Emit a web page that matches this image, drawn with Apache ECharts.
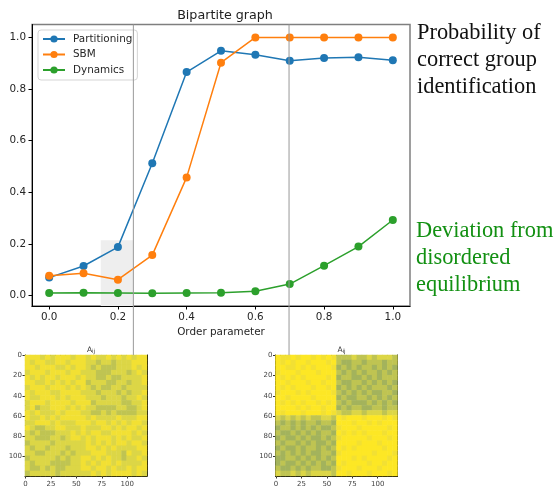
<!DOCTYPE html>
<html>
<head>
<meta charset="utf-8">
<style>html,body{margin:0;padding:0;background:#fff}#c{width:556px;height:488px}</style>
<script src="https://cdn.jsdelivr.net/npm/echarts@6/dist/echarts.min.js"></script>
</head>
<body>
<div id="c"></div>
<script>
const orderParameter = [0.0, 0.1, 0.2, 0.3, 0.4, 0.5, 0.6, 0.7, 0.8, 0.9, 1.0];
const partitioning = [0.070, 0.115, 0.188, 0.513, 0.866, 0.948, 0.933, 0.910, 0.920, 0.923, 0.912];
const sbm = [0.077, 0.087, 0.062, 0.157, 0.458, 0.902, 1.0, 1.0, 1.0, 1.0, 1.0];
const dynamics = [0.010, 0.011, 0.010, 0.009, 0.010, 0.011, 0.017, 0.045, 0.116, 0.190, 0.293];
const xTicks = [0, 0.2, 0.4, 0.6, 0.8, 1.0];
const yTicks = [0, 0.2, 0.4, 0.6, 0.8, 1.0];
const heatXTicks = [0, 25, 50, 75, 100];
const heatYTicks = [0, 20, 40, 60, 80, 100];
const guideLines = [0.245, 0.698];
const shadedBand = [0.15, 0.245, 0.215];
// Estimated block shade per 5x5 cells of the 120x120 matrices (0 dark ... 9 yellow).
const matrixLeft = [
"888787888788787787878788",
"878877887888776776777888",
"887888778788767666777878",
"788878887887776667776787",
"878788788878776676677778",
"887787878788677766776778",
"788878887878767667767777",
"878887788887776777676778",
"877888787888777677767787",
"788878888788867777766778",
"786778887878776666776678",
"878777878887766767666677",
"877878788888787777877788",
"778887877788878878787887",
"876677887778777887878878",
"767666777878788778888787",
"776667767887878887878778",
"677776777777878787887887",
"767767776777887878777788",
"776677767677788877768778",
"677777676778878787767787",
"767776666778787887877778",
"766767667778878878778788",
"677777677777787878888787"];
const matrixRight = [
"988989989898666766767776",
"989899899989655665666566",
"998898989998565656656565",
"899989998999656565665656",
"989898999989566556565666",
"998999899899655665656565",
"989899989989565656566656",
"899989899998656565655665",
"998999989999565566565656",
"989898998989656555656565",
"999989899899565665566566",
"989998999898766776777677",
"767676766776989998999898",
"656565665665999899898999",
"566565656556899989999989",
"655656565665989898999899",
"565565655656899999899989",
"656656565565999989998999",
"565565665656989899999899",
"656565655665899999989998",
"556656565656999898999989",
"565565656565989999899899",
"655656566556899989998999",
"766767677776998999899989"];
const blockShades = ['#1f6f8b', '#2f7b88', '#457f7f', '#5f8c72', '#7f9f66', '#a3b35c', '#bfc452', '#dcd646', '#f2e033', '#fde725'];

const FONT = '"DejaVu Sans"';
const toCells = rows => rows.flatMap((row, y) => [...row].map((d, x) => [x, y, +d]));
const blockIds = matrixLeft.map((_, i) => String(i));

function heatAxes(gridIndex, ticks, side) {
  const isX = side === 'bottom';
  const category = {
    type: 'category', gridIndex, data: blockIds, inverse: !isX, position: isX ? 'top' : 'right',
    axisLine: { show: true, onZero: false, lineStyle: { color: '#000', width: 1 } },
    axisTick: { show: false }, axisLabel: { show: false }, splitLine: { show: false }
  };
  const value = {
    type: 'value', gridIndex, position: side, min: -0.5, max: 119.5, inverse: !isX,
    splitLine: { show: false },
    axisLine: { show: true, onZero: false, lineStyle: { color: '#000', width: 1 } },
    axisTick: { show: true, length: 2.5, customValues: ticks, lineStyle: { color: '#333' } },
    axisLabel: { show: true, customValues: ticks, fontFamily: FONT, fontSize: 7, color: '#444', margin: isX ? 5 : 3,
                 formatter: v => String(v), showMinLabel: true, showMaxLabel: true }
  };
  return [category, value];
}

const mainAxis = (ticks, position, margin, padding) => ({
  type: 'value', gridIndex: 0, position,
  splitLine: { show: false },
  axisLine: { show: true, onZero: false, lineStyle: { color: '#000', width: 1 } },
  axisTick: { show: true, length: 3.5, customValues: ticks, lineStyle: { color: '#000' } },
  axisLabel: { show: true, customValues: ticks, fontFamily: FONT, fontSize: 10.4, color: '#262626', margin, padding,
               formatter: v => v.toFixed(1), showMinLabel: true, showMaxLabel: true }
});

const lineSeries = (name, values, color, extra) => Object.assign({
  name, type: 'line', xAxisIndex: 0, yAxisIndex: 0,
  data: orderParameter.map((x, i) => [x, values[i]]),
  symbol: 'circle', symbolSize: 8, showSymbol: true,
  lineStyle: { color, width: 1.5 }, itemStyle: { color }, z: 3, animation: false
}, extra || {});

const heatSeries = (data, xi, yi) => ({
  type: 'heatmap', data, xAxisIndex: xi, yAxisIndex: yi, animation: false, silent: true,
  progressive: 0, itemStyle: { borderWidth: 0 }
});

const sideText = (lines, left, top, color) => ({
  text: lines, left, top,
  textStyle: { fontFamily: '"Liberation Serif"', fontSize: 22.4, fontWeight: 'normal', color, lineHeight: 27 }
});

const heatTitle = cx => ({
  text: 'A{s|ij}', left: cx, top: 340, textAlign: 'center',
  textStyle: { fontFamily: FONT, fontSize: 7.5, fontWeight: 'normal', color: '#333',
    rich: { s: { fontFamily: FONT, fontSize: 5.5, color: '#333', verticalAlign: 'bottom', padding: [4, 0, 0, 0] } } }
});

const chart = echarts.init(document.getElementById('c'), null, { renderer: 'canvas' });
chart.setOption({
  animation: false,
  backgroundColor: '#fff',
  title: [
    { text: 'Bipartite graph', left: 220, top: 4, textAlign: 'center',
      textStyle: { fontFamily: FONT, fontSize: 12.7, fontWeight: 'normal', color: '#222' } },
    sideText('Probability of\ncorrect group\nidentification', 412, 14.5, '#111'),
    sideText('Deviation from\ndisordered\nequilibrium', 411, 213, '#129012'),
    heatTitle(86), heatTitle(336.5)
  ],
  legend: {
    orient: 'vertical', left: 38, top: 30, padding: [4, 5, 5, 4], itemGap: 5.5, itemWidth: 22, itemHeight: 9,
    data: ['Partitioning', 'SBM', 'Dynamics'],
    backgroundColor: 'rgba(255,255,255,0.8)', borderColor: '#d5d5d5', borderWidth: 1, borderRadius: 3,
    textStyle: { fontFamily: FONT, fontSize: 10.4, color: '#262626', padding: [0, 0, 0, 3] }
  },
  grid: [
    { left: 32, top: 24.5, width: 378, height: 281.5, show: true, borderColor: '#7f7f7f', borderWidth: 1.5, backgroundColor: 'transparent' },
    { left: 25, top: 355, width: 122, height: 121.5 },
    { left: 275.5, top: 355, width: 122, height: 121.5 }
  ],
  xAxis: [
    Object.assign(mainAxis(xTicks, 'bottom', 6.5), { min: -0.05, max: 1.05, name: 'Order parameter', nameLocation: 'middle', nameGap: 20,
      nameTextStyle: { fontFamily: FONT, fontSize: 10.4, color: '#262626' } }),
    ...heatAxes(1, heatXTicks, 'bottom'),
    ...heatAxes(2, heatXTicks, 'bottom')
  ],
  yAxis: [
    Object.assign(mainAxis(yTicks, 'left', 6, [3, 0, 0, 0]), { min: -0.04, max: 1.05 }),
    ...heatAxes(1, heatYTicks, 'left'),
    ...heatAxes(2, heatYTicks, 'left')
  ],
  visualMap: {
    show: false, type: 'continuous', min: 0, max: 9, seriesIndex: [4, 5],
    inRange: { color: blockShades }
  },
  series: [
    lineSeries('Partitioning', partitioning, '#1f77b4', {
      markArea: { silent: true, itemStyle: { color: '#eeeeee' },
        data: [[{ xAxis: shadedBand[0], yAxis: -0.04 }, { xAxis: shadedBand[1], yAxis: shadedBand[2] }]] }
    }),
    lineSeries('SBM', sbm, '#ff7f0e'),
    lineSeries('Dynamics', dynamics, '#2ca02c'),
    {
      type: 'custom', xAxisIndex: 0, yAxisIndex: 0, clip: false, silent: true, z: 6, animation: false,
      data: guideLines.map(x => [x, 1.05, -0.23]),
      encode: { x: 0, y: 1 },
      renderItem: (params, api) => {
        const a = api.coord([api.value(0), api.value(1)]);
        const b = api.coord([api.value(0), api.value(2)]);
        return { type: 'line', shape: { x1: a[0], y1: a[1], x2: b[0], y2: b[1] },
                 style: { stroke: '#999999', lineWidth: 1 } };
      }
    },
    heatSeries(toCells(matrixLeft), 1, 1),
    heatSeries(toCells(matrixRight), 3, 3)
  ]
});
</script>
</body>
</html>
